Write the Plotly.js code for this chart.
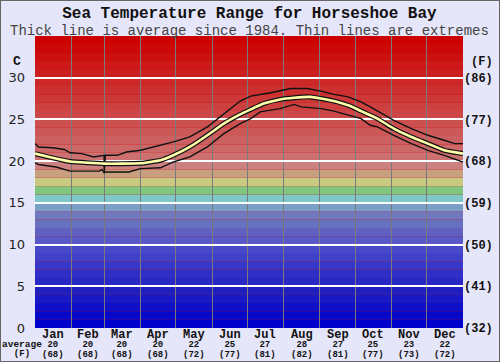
<!DOCTYPE html>
<html>
<head>
<meta charset="utf-8">
<script src="https://cdn.plot.ly/plotly-3.0.1.min.js"></script>
<style>
html,body{margin:0;padding:0;background:#e6e6fa;}
#wrap{position:relative;width:500px;height:362px;}
#chart{width:500px;height:362px;}
#frame{position:absolute;left:0;top:0;width:498px;height:360px;border:1px solid #666;pointer-events:none;}
</style>
</head>
<body>
<div id="wrap"><div id="chart"></div><div id="frame"></div></div>
<script>
// ---- data ----
const monthNames = ["Jan","Feb","Mar","Apr","May","Jun","Jul","Aug","Sep","Oct","Nov","Dec"];
const monthStarts = [0,31,59,90,120,151,181,212,243,273,304,334,365];
const monthAvgC = [20,20,20,20,22,25,27,28,27,25,23,22];
const monthAvgF = [68,68,68,68,72,77,81,82,81,77,73,72];

const avgDays = [0,15,30,45,59,74,90,107,118,132,147,161,175,184,195,209,221,235,244,258,269,278,292,306,321,335,349,365];
const avgTemp = [20.9,20.4,19.95,19.8,19.7,19.7,19.75,20.1,20.7,21.7,23.1,24.5,25.6,26.2,26.9,27.4,27.6,27.7,27.5,27.1,26.6,26.0,25.1,23.9,22.9,22.1,21.3,20.9];

const maxDays = [0,3,15,25,30,40,50,57,58.9,59,60,70,78,90,107,118,132,147,156,164,175,184,201,218,232,244,255,267,278,286,292,306,321,335,349,358,365];
const maxTemp = [22.1,21.7,21.6,21.4,21.0,20.9,20.5,20.7,20.7,18.6,20.7,20.7,21.1,21.3,21.9,22.3,22.9,24.1,25.1,26.0,27.2,27.8,28.2,28.7,28.7,28.4,28.0,27.7,27.1,26.5,26.0,24.9,23.9,23.1,22.5,22.1,22.1];

const minDays = [0,3,18,27,30,55,57,59,60,80,85,90,107,118,132,147,161,175,184,192,209,221,227,244,255,269,278,286,292,306,321,335,349,365];
const minTemp = [19.8,19.6,19.3,18.9,18.8,18.8,19.0,18.6,18.7,18.7,18.9,19.1,19.2,19.9,20.5,21.7,23.3,24.5,25.1,25.9,26.3,26.8,26.5,26.3,26.0,25.4,25.1,24.3,24.1,23.1,22.1,21.3,20.7,19.9];

const cTicks = [0,5,10,15,20,25,30];
const fTicks = ["(32)","(41)","(50)","(59)","(68)","(77)","(86)"];

// band colours, 1 degree each from 0 to 35 (style)
const bandColors = ["#0000cc","#0808c8","#1010c8","#1818c4","#2020c0","#2828c4","#3030c8","#3838c8","#4040c8","#4848c8",
  "#5858c8","#6060c0","#6870c0","#7078c0","#7ba0c8","#80c8c8","#80c880","#c8c880","#c8a080","#cc8080",
  "#cc7070","#cc6868","#cc6060","#cc5858","#cc5050","#cc4848","#cc4040","#cc3838","#cc3030","#cc2828",
  "#cc2020","#cc1818","#cc1010","#cc0808","#cc0000"];

const mono = "Liberation Mono, Courier New, monospace";
const shapes = bandColors.map((c,i)=>({type:"rect",xref:"x",yref:"y",x0:0,x1:365,y0:i,y1:i+1,fillcolor:c,line:{width:0},layer:"below"}));

const mid = monthStarts.slice(0,12).map((s,i)=>(s+monthStarts[i+1])/2);
const ann = [];
const py = p => (328-p)/292;
const px = p => (p-35)/427;
function A(o){ ann.push(Object.assign({showarrow:false,xanchor:"center",yanchor:"middle"},o)); }
const s = (sz,t) => "<span style='font-size:"+sz+"px'>"+t+"</span>";
mid.forEach((m,i)=>{
  A({x:m,xref:"x",y:py(343.5),yref:"paper",
     text:"<b>"+s(12,monthNames[i])+"<br>"+s(9,monthAvgC[i])+"<br>"+s(9,"("+monthAvgF[i]+")")+"</b>",
     font:{family:mono,size:7.3,color:"#111"}});
});
A({x:px(22),xref:"paper",y:py(348.5),yref:"paper",text:"<b>"+s(9.5,"average")+"<br>"+s(9,"(F)")+"</b>",font:{family:mono,size:7.3,color:"#111"}});
A({x:px(17),xref:"paper",y:py(61),yref:"paper",text:"<b>C</b>",font:{family:mono,size:13,color:"#111"}});
A({x:px(481),xref:"paper",y:py(62),yref:"paper",text:"<b>(F)</b>",font:{family:mono,size:12,color:"#111"}});
A({x:0.5,xref:"paper",y:py(21.5),yref:"paper",
   text:"<b>"+s(16,"Sea Temperature Range for Horseshoe Bay")+"</b><br><span style='font-size:14px;fill:#444'>Thick line is average since 1984. Thin lines are extremes</span>",
   font:{family:mono,size:13,color:"#111"}});

const traces = [
  {x:maxDays,y:maxTemp,mode:"lines",line:{color:"#111",width:1.4},hoverinfo:"skip"},
  {x:minDays,y:minTemp,mode:"lines",line:{color:"#111",width:1.4},hoverinfo:"skip"},
  {x:avgDays,y:avgTemp,mode:"lines",line:{color:"#111",width:5,shape:"spline",smoothing:0.4},hoverinfo:"skip"},
  {x:avgDays,y:avgTemp,mode:"lines",line:{color:"#ffffaa",width:2.6,shape:"spline",smoothing:0.4},hoverinfo:"skip"},
  {x:avgDays,y:avgTemp,yaxis:"y2",mode:"lines",opacity:0,line:{width:0},hoverinfo:"skip"}
];

const layout = {
  width:500,height:362,
  margin:{l:35,r:37,t:36,b:34},
  paper_bgcolor:"#e6e6fa",plot_bgcolor:"#cc0000",
  showlegend:false,
  xaxis:{range:[0,365],tickvals:monthStarts,showticklabels:false,showgrid:true,gridcolor:"#7a7a7a",gridwidth:1,zeroline:false,ticks:"",showline:false},
  yaxis:{range:[0,35],tickvals:cTicks,showgrid:true,gridcolor:"#ffffff",gridwidth:2,zeroline:false,ticks:"",ticklabelstandoff:9,
         tickfont:{family:"DejaVu Sans",size:13,color:"#222"}},
  yaxis2:{range:[0,35],overlaying:"y",side:"right",tickvals:cTicks,ticktext:fTicks,showgrid:false,zeroline:false,ticks:"",ticklabelstandoff:0,
         tickfont:{family:mono,size:12,color:"#111",weight:"bold"}},
  shapes:shapes,
  annotations:ann
};
Plotly.newPlot("chart",traces,layout,{staticPlot:true,displayModeBar:false});
</script>
</body>
</html>
